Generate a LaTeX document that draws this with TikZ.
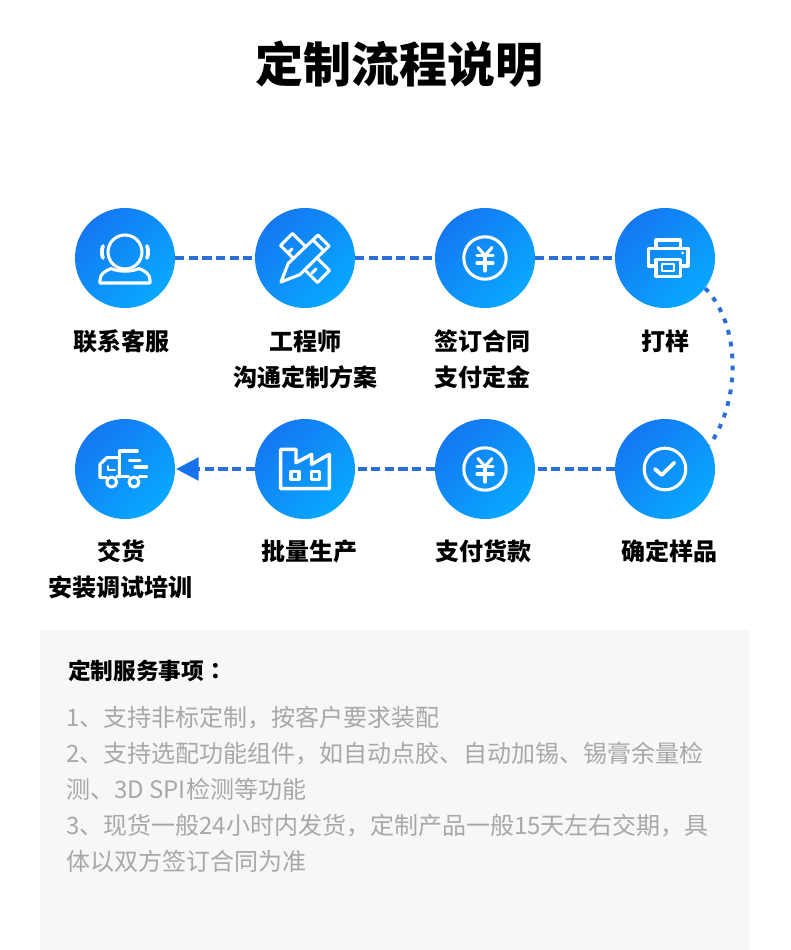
\documentclass[tikz,border=0pt]{standalone}
\usepackage{fontspec}
\setmainfont{Noto Sans CJK SC}
\newfontfamily\tcfont{Noto Sans CJK TC}
\usetikzlibrary{arrows.meta}
\definecolor{gradA}{HTML}{1478F2}
\definecolor{gradB}{HTML}{08A8FF}
\definecolor{dashc}{HTML}{2A6FD8}
\definecolor{tipc}{HTML}{1673EC}
\definecolor{panelc}{HTML}{F7F7F7}
\definecolor{bodyc}{HTML}{A8A8A8}
\tikzset{
  x=0.75pt,y=-0.75pt,
  stepdisc/.style={circle,minimum size=75pt,inner sep=0pt,left color=gradA,right color=gradB,shading angle=45},
  dashline/.style={draw=dashc,line width=2.7pt,dash pattern=on 6.8pt off 3.4pt},
  dotline/.style={draw=dashc,line width=3pt,dash pattern=on 3.6pt off 5.4pt},
  ico/.style={draw=white,line width=2.3pt,line cap=round,line join=round},
  steplabel/.style={font=\fontsize{18pt}{22pt}\selectfont\bfseries,text=black,inner sep=0pt},
  bodyline/.style={font=\fontsize{18pt}{22pt}\selectfont,text=bodyc,inner sep=0pt,anchor=base west},
}
\newcommand{\yenicon}{%
  \draw[ico] (0,0) circle (21.2);
  \draw[ico] (-7,-10.5) -- (0,-2.5) -- (7,-10.5);
  \draw[ico] (-8,-2.5) -- (8,-2.5) (-8,5) -- (8,5) (0,-2.5) -- (0,13);
}
\begin{document}
\begin{tikzpicture}
\useasboundingbox (0,0) rectangle (790,950);
\fill[white] (0,0) rectangle (790,950);
\fill[panelc] (40,630) rectangle (750,950);

\node[font=\fontsize{36pt}{40pt}\selectfont\bfseries,text=black,inner sep=0pt] (title) at (399.5,64) {定制流程说明};

\node[stepdisc] (n1) at (125,258) {};
\node[stepdisc] (n2) at (305,258) {};
\node[stepdisc] (n3) at (485,258) {};
\node[stepdisc] (n4) at (665,258) {};
\node[stepdisc] (n5) at (125,469) {};
\node[stepdisc] (n6) at (305,469) {};
\node[stepdisc] (n7) at (485,469) {};
\node[stepdisc] (n8) at (665,469) {};

\draw[dashline] (n1) -- (n2);
\draw[dashline] (n2) -- (n3);
\draw[dashline] (n3) -- (n4);
\draw[dashline] (n8) -- (n7);
\draw[dashline] (n7) -- (n6);
\draw[dashline,shorten >=0.6pt,-{Triangle[length=17pt,width=17pt,color=tipc,fill=tipc]}] (n6) -- (n5);
\draw[dotline] (n4.-37) .. controls (741,325) and (741,400) .. (n8.28);

% headset
\begin{scope}[shift={(n1.center)}]
  \draw[ico] (0,-6) circle (17);
  \draw[ico,line width=2.8pt] (-22,-12) .. controls (-23.5,-8) and (-23.5,-4) .. (-22,0);
  \draw[ico,line width=2.8pt] (22,-12) .. controls (23.5,-8) and (23.5,-4) .. (22,0);
  \draw[ico] (-25,25) -- (25,25) -- (25,22) .. controls (25,16) and (20,13) .. (14,10.5)
     .. controls (7,14) and (-7,14) .. (-14,10.5) .. controls (-20,13) and (-25,16) .. (-25,22) -- cycle;
\end{scope}
% pencil and ruler
\begin{scope}[shift={(n2.center)}]
  \draw[ico] (-24,24) -- (-16.7,5.3) -- (13,-23) -- (24,-12) -- (-5.3,16.7) -- cycle;
  \draw[ico] (8,-18) -- (19,-7);
  \draw[ico] (-11.5,0.5) -- (-24.5,-12.5) -- (-12.5,-24.5) -- (0.5,-11.5);
  \draw[ico] (11.7,-0.3) -- (24.5,12.5) -- (12.5,24.5) -- (-0.3,11.7);
  \draw[ico] (-17,-5) -- (-13,-9);
  \draw[ico] (7,15) -- (11,11);
\end{scope}
% yen
\begin{scope}[shift={(n3.center)}]\yenicon\end{scope}
% printer
\begin{scope}[shift={(n4.center)}]
  \draw[ico] (-9,-9.5) -- (-9,-18) -- (15.5,-18) -- (15.5,-9.5);
  \draw[ico] (-9,8) -- (-16.7,8) -- (-16.7,-9.5) -- (23,-9.5) -- (23,8) -- (15.5,8);
  \draw[ico] (-9,1.7) rectangle (15.5,18.3);
  \draw[ico,line width=1.5pt] (-3.3,5.5) rectangle (9,13);
  \fill[white] (17.7,-5) circle (1.5);
\end{scope}
% truck
\begin{scope}[shift={(n5.center)}]
  \draw[ico] (-18.5,8.7) -- (-25,8.7) -- (-25,-4.7) -- (-18.3,-11.3) -- (-5.7,-11.3) -- (-5.7,8);
  \draw[ico] (-5.7,-11.3) -- (-5.7,-18) -- (12.3,-18);
  \draw[ico] (4.3,-8.7) -- (15,-8.7) (10,-2) -- (21.7,-2);
  \draw[ico] (-8,7.5) -- (3.5,7.5) (14.5,7.5) -- (21.7,7.5);
  \draw[ico] (-13.3,13) circle (5) (9,13) circle (5);
  \draw[ico,line width=1.5pt] (-16.7,-3) -- (-16.7,1) -- (-10,1);
\end{scope}
% factory
\begin{scope}[shift={(n6.center)}]
  \draw[ico,line width=2.6pt] (-24.3,-19.7) -- (-24.3,19.7) -- (24.3,19.7) -- (24.3,-14.7) -- (6.7,-4.7) -- (6.7,-14.7) -- (-9,-6.3) -- (-9,-19.7) -- cycle;
  \draw[ico] (-14,2.3) rectangle (-6,10.3);
  \draw[ico] (6.7,2.3) rectangle (14.7,10.3);
\end{scope}
% yen
\begin{scope}[shift={(n7.center)}]\yenicon\end{scope}
% check
\begin{scope}[shift={(n8.center)}]
  \draw[ico] (0,0) circle (20.8);
  \draw[ico,line width=2.8pt] (-10,0) -- (-3.3,6) -- (9.3,-6.3);
\end{scope}

\node[steplabel] (l1) at (121,341) {联系客服};
\node[steplabel] (l2a) at (305,341) {工程师};
\node[steplabel] (l2b) at (305,377) {沟通定制方案};
\node[steplabel] (l3a) at (482,341) {签订合同};
\node[steplabel] (l3b) at (482,377) {支付定金};
\node[steplabel] (l4) at (665,341) {打样};
\node[steplabel] (l5a) at (121,551) {交货};
\node[steplabel] (l5b) at (120,587) {安装调试培训};
\node[steplabel] (l6) at (309,551) {批量生产};
\node[steplabel] (l7) at (483,551) {支付货款};
\node[steplabel] (l8) at (669,551) {确定样品};

\node[font=\fontsize{17pt}{20pt}\selectfont\bfseries,text=black,inner sep=0pt,anchor=base west] (head) at (68,679) {定制服务事项{\tcfont\bfseries ：}};
\node[bodyline] (b1) at (66,726.5) {1、支持非标定制，按客户要求装配};
\node[bodyline] (b2) at (66,762.5) {2、支持选配功能组件，如自动点胶、自动加锡、锡膏余量检};
\node[bodyline] (b3) at (66,798.5) {测、3D SPI检测等功能};
\node[bodyline] (b4) at (66,834.5) {3、现货一般24小时内发货，定制产品一般15天左右交期，具};
\node[bodyline] (b5) at (66,870.5) {体以双方签订合同为准};
\end{tikzpicture}
\end{document}
